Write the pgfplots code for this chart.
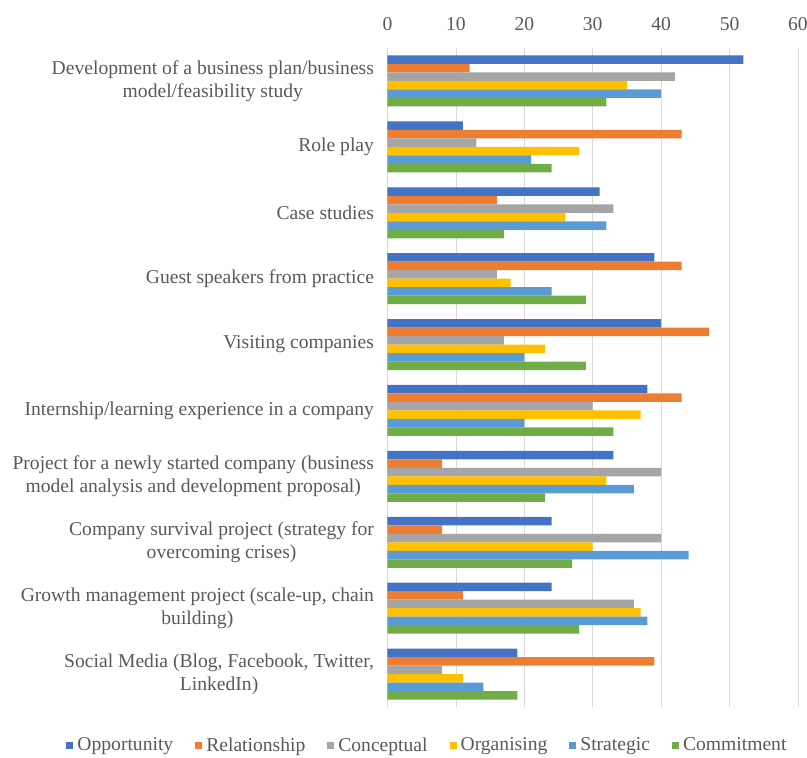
\documentclass[border=0pt]{standalone}
\usepackage{pgfplots}
\pgfplotsset{compat=1.18}
\usepackage{fontspec}
\setmainfont{Liberation Serif}
\definecolor{cOpp}{HTML}{4472C4}
\definecolor{cRel}{HTML}{ED7D31}
\definecolor{cCon}{HTML}{A5A5A5}
\definecolor{cOrg}{HTML}{FFC000}
\definecolor{cStr}{HTML}{5B9BD5}
\definecolor{cCom}{HTML}{70AD47}
\definecolor{gridc}{HTML}{D9D9D9}
\definecolor{textc}{HTML}{595959}
\begin{document}
\begin{tikzpicture}
\begin{axis}[
  name=ax,
  at={(0,0)}, anchor=south west,
  scale only axis, width=410.5pt, height=659pt,
  xbar=0pt, bar width=8.5pt,
  xmin=0, xmax=60, xtick={0,10,...,60},
  ymin=-0.5, ymax=9.5, y dir=reverse,
  ytick={0,...,9},
  yticklabels={
    {Development of a business plan/business\\model/feasibility study},
    {Role play},
    {Case studies},
    {Guest speakers from practice},
    {Visiting companies},
    {Internship/learning experience in a company},
    {Project for a newly started company (business\\model analysis and development proposal)},
    {Company survival project (strategy for\\overcoming crises)},
    {Growth management project (scale-up, chain\\building)},
    {Social Media (Blog, Facebook, Twitter,\\LinkedIn)}
  },
  axis line style={draw=none},
  major tick length=0pt,
  xticklabel pos=top,
  xmajorgrids, grid style={color=gridc, line width=0.8pt},
  /pgf/number format/assume math mode=true,
  tick label style={font=\fontsize{19.6}{23}\selectfont, text=textc},
  yticklabel style={align=center, anchor=east, xshift=-10pt},
  xticklabel style={yshift=14pt},
  legend columns=6,
  legend style={draw=none, fill=none, at={(0.0974,-0.058)}, anchor=center,
    font=\fontsize{19.6}{23}\selectfont, text=textc,
    /tikz/every odd column/.append style={column sep=2pt},
    /tikz/every even column/.append style={column sep=20pt}},
  legend image code/.code={\fill[#1,draw=none] (0pt,-3.5pt) rectangle (7pt,3.5pt);},
]
\addplot[fill=cOpp, draw=none, bar shift=21.25pt] coordinates {(52,0) (11,1) (31,2) (39,3) (40,4) (38,5) (33,6) (24,7) (24,8) (19,9)};
\addplot[fill=cRel, draw=none, bar shift=12.75pt] coordinates {(12,0) (43,1) (16,2) (43,3) (47,4) (43,5) (8,6) (8,7) (11,8) (39,9)};
\addplot[fill=cCon, draw=none, bar shift=4.25pt] coordinates {(42,0) (13,1) (33,2) (16,3) (17,4) (30,5) (40,6) (40,7) (36,8) (8,9)};
\addplot[fill=cOrg, draw=none, bar shift=-4.25pt] coordinates {(35,0) (28,1) (26,2) (18,3) (23,4) (37,5) (32,6) (30,7) (37,8) (11,9)};
\addplot[fill=cStr, draw=none, bar shift=-12.75pt] coordinates {(40,0) (21,1) (32,2) (24,3) (20,4) (20,5) (36,6) (44,7) (38,8) (14,9)};
\addplot[fill=cCom, draw=none, bar shift=-21.25pt] coordinates {(32,0) (24,1) (17,2) (29,3) (29,4) (33,5) (23,6) (27,7) (28,8) (19,9)};
\legend{Opportunity, Relationship, Conceptual, Organising, Strategic, Commitment}
\end{axis}
\pgfresetboundingbox
\path (-387.5pt,-51pt) rectangle (419.5pt,707pt);
\end{tikzpicture}
\end{document}
